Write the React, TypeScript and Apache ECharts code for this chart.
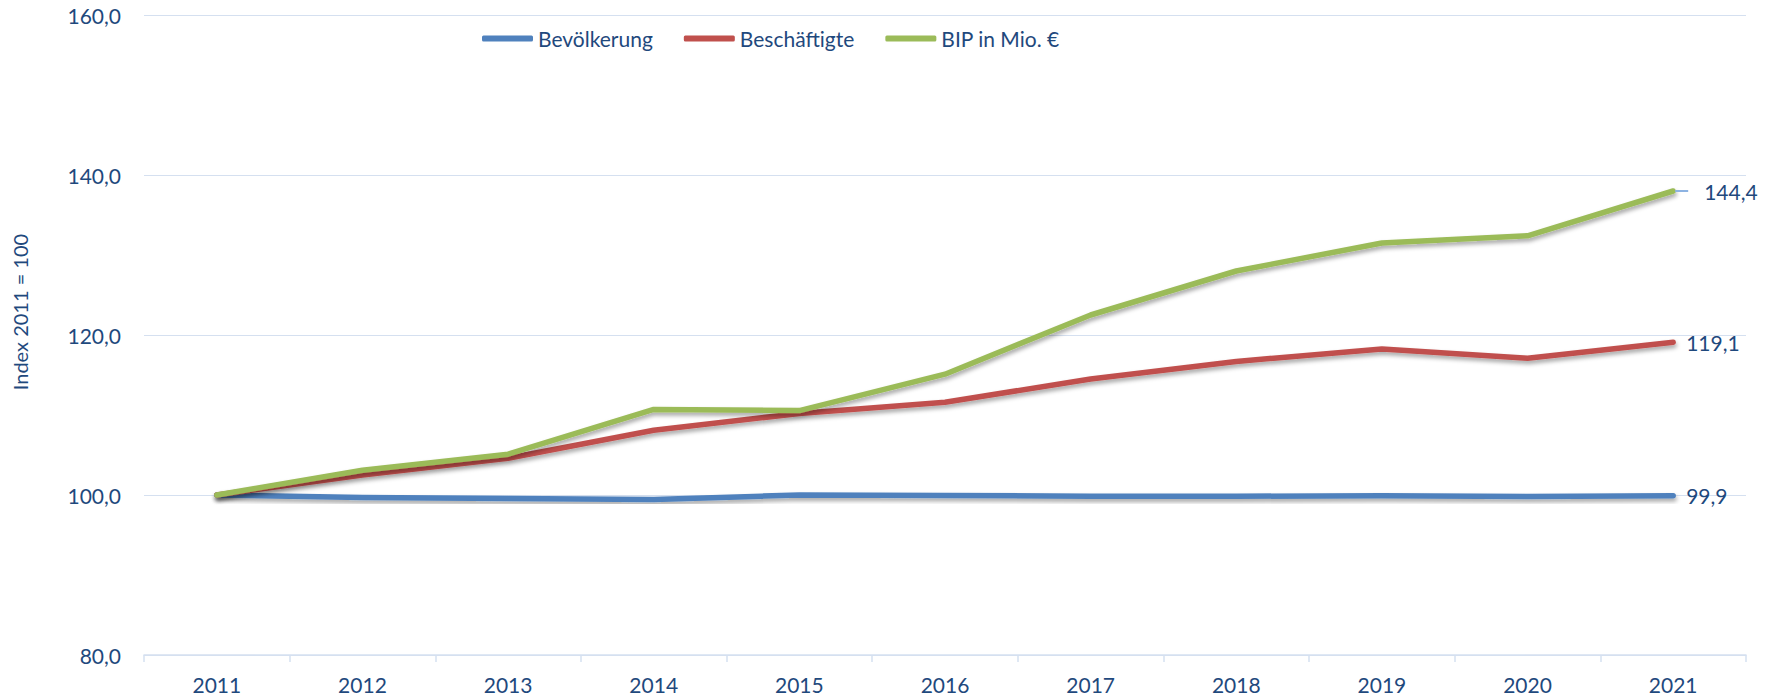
import React, { useEffect, useRef } from "react";
import * as echarts from "echarts";

const years = ["2011", "2012", "2013", "2014", "2015", "2016", "2017", "2018", "2019", "2020", "2021"];
const bevoelkerung = [100.0, 99.7, 99.55, 99.45, 100.0, 99.95, 99.85, 99.85, 99.9, 99.8, 99.9];
const beschaeftigte = [100.0, 102.5, 104.6, 108.1, 110.2, 111.6, 114.5, 116.7, 118.25, 117.1, 119.1];
const bip = [100.0, 103.1, 105.1, 110.7, 110.55, 115.1, 122.5, 128.0, 131.5, 132.4, 138.0];
const endLabels = ["99,9", "119,1", "144,4"];
const seriesNames = ["Bevölkerung", "Beschäftigte", "BIP in Mio. €"];
const colors = ["#4F81BD", "#C0504D", "#9BBB59"];
const yAxisTitle = "Index 2011 = 100";

const TEXT = "#1F497D";
const FONT = "Lato";
const GRID = "#d5e0f0";

export default function App() {
  const ref = useRef<HTMLDivElement>(null);
  useEffect(() => {
    const chart = echarts.init(ref.current!, null, { renderer: "svg" });
    const dataSets = [bevoelkerung, beschaeftigte, bip];
    const series = dataSets.map((d, i) => ({
      name: seriesNames[i],
      type: "line",
      data: d,
      showSymbol: false,
      symbol: "none",
      z: 2 + i,
      lineStyle: {
        color: colors[i],
        width: 5.5,
        cap: "round",
        join: "round",
        shadowColor: "rgba(0,0,0,0.35)",
        shadowBlur: 4,
        shadowOffsetX: 1,
        shadowOffsetY: 3,
      },
      itemStyle: { color: colors[i] },
      endLabel: {
        show: true,
        distance: i === 2 ? 2 : 13,
        formatter: i === 2 ? "{ln|}{sp|}{t|" + endLabels[i] + "}" : endLabels[i],
        color: TEXT,
        fontFamily: FONT,
        fontSize: 21,
        rich: {
          ln: { width: 13, height: 2, backgroundColor: "#8db3e2" },
          sp: { width: 16 },
          t: { color: TEXT, fontFamily: FONT, fontSize: 21 },
        },
      },
    }));
    chart.setOption({
      animation: false,
      textStyle: { fontFamily: FONT },
      legend: {
        left: 477,
        top: 23,
        icon: "roundRect",
        itemWidth: 51,
        itemHeight: 6,
        itemGap: 31,
        textStyle: { color: TEXT, fontFamily: FONT, fontSize: 21 },
        data: seriesNames.map((n, i) => ({ name: n, itemStyle: { color: colors[i] } })),
      },
      grid: { left: 144, right: 33, top: 15, bottom: 43 },
      xAxis: {
        type: "category",
        data: years,
        boundaryGap: true,
        axisLine: { show: true, lineStyle: { color: GRID, width: 1.5 } },
        axisTick: { show: true, length: 7, lineStyle: { color: GRID, width: 1.5 } },
        axisLabel: { color: TEXT, fontFamily: FONT, fontSize: 21, margin: 19 },
      },
      yAxis: {
        type: "value",
        min: 80,
        max: 160,
        interval: 20,
        axisLine: { show: false },
        axisTick: { show: false },
        splitLine: { lineStyle: { color: GRID, width: 1 } },
        axisLabel: {
          color: TEXT,
          fontFamily: FONT,
          fontSize: 21,
          margin: 23,
          formatter: (v: number) => v.toFixed(1).replace(".", ","),
        },
      },
      graphic: [
        {
          type: "text",
          x: 20,
          y: 312,
          rotation: Math.PI / 2,
          style: {
            text: yAxisTitle,
            fill: TEXT,
            font: `20px ${FONT}`,
            textAlign: "center",
            textVerticalAlign: "middle",
          },
        },
      ],
      series,
    });
    return () => chart.dispose();
  }, []);
  return (
    <div
      ref={ref}
      style={{ position: "absolute", left: 0, top: 0, width: 1779, height: 698, background: "#fff" }}
    />
  );
}
